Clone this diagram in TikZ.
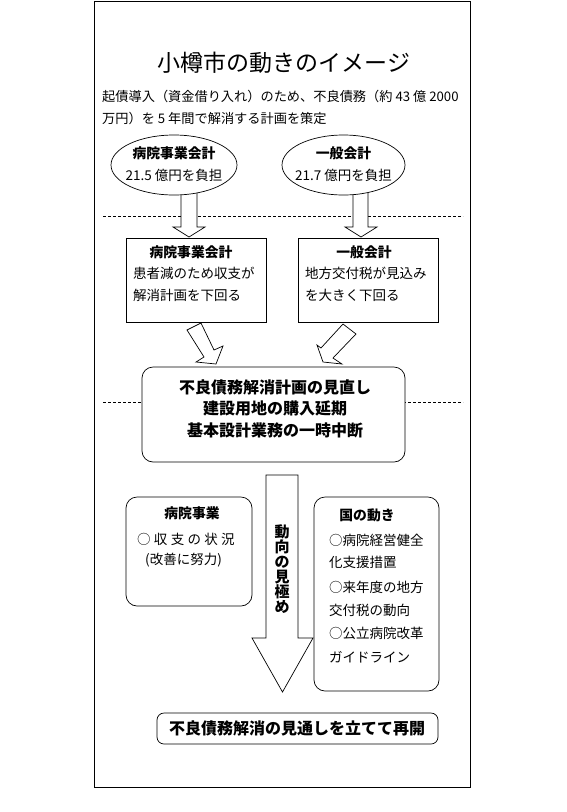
\documentclass[tikz,border=0pt]{standalone}
\usepackage{fontspec}
\setmainfont{Noto Sans CJK JP}
\usetikzlibrary{shapes.geometric}
\tikzset{
  frame/.style={draw, line width=1pt},
  ell/.style={ellipse, draw, fill=white, line width=0.7pt, minimum width=126pt, minimum height=60pt, inner sep=0pt},
  sqbox/.style={draw, fill=white, line width=0.7pt, minimum width=140pt, minimum height=84pt, inner sep=0pt},
  rbox/.style={draw, fill=white, line width=0.7pt, rounded corners=11pt, inner sep=0pt},
  blockarrow/.style={draw, fill=white, line width=0.7pt, line join=miter},
  dline/.style={line width=0.6pt, dash pattern=on 3pt off 2pt},
  t13/.style={inner sep=0pt, font=\fontsize{13.5}{15}\selectfont},
  s13/.style={inner sep=0pt, font=\fontsize{13.2}{15}\selectfont},
  b13/.style={inner sep=0pt, font=\fontsize{13.8}{15}\selectfont\bfseries},
  b16/.style={inner sep=0pt, font=\fontsize{16}{18}\selectfont\bfseries},
}
\begin{document}
\begin{tikzpicture}[x=1pt,y=-1pt]
\useasboundingbox (0,0) rectangle (566,812);
% outer frame
\draw[frame] (94.5,1) rectangle (470.5,787);
% title
\node[inner sep=0pt, font=\fontsize{23}{25}\selectfont, anchor=base] (title) at (284,71) {小樽市の動きのイメージ};
\node[s13, anchor=base west] (sub1) at (102,101) {起債導入（資金借り入れ）のため、不良債務（約 43 億 2000};
\node[s13, anchor=base west] (sub2) at (102,123) {万円）を 5 年間で解消する計画を策定};
% dashed lines
\draw[dline] (103,216) -- (463,216);
\draw[dline] (103,402) -- (463,402);
% vertical block arrows
\draw[blockarrow] (181,190) -- (197,190) -- (197,227) -- (205,227) -- (189,237) -- (173,227) -- (181,227) -- cycle;
\draw[blockarrow] (353,190) -- (368,190) -- (368,227) -- (377,227) -- (361,237) -- (345,227) -- (353,227) -- cycle;
% ellipses
\node[ell] (e1) at (174,165) {};
\node[b13, anchor=base] (e1a) at (174,158) {病院事業会計};
\node[t13, anchor=base] (e1b) at (174,180) {21.5 億円を負担};
\node[ell, minimum width=123pt] (e2) at (343.5,165) {};
\node[b13, anchor=base] (e2a) at (343.5,158) {一般会計};
\node[t13, anchor=base] (e2b) at (343.5,180) {21.7 億円を負担};
% square boxes
\node[sqbox] (b1) at (196,280) {};
\node[b13, anchor=base] (b1a) at (191,257) {病院事業会計};
\node[t13, anchor=base west] (b1b) at (133,278) {患者減のため収支が};
\node[t13, anchor=base west] (b1c) at (133,300) {解消計画を下回る};
\node[sqbox] (b2) at (368,280) {};
\node[b13, anchor=base] (b2a) at (364,257) {一般会計};
\node[t13, anchor=base west] (b2b) at (305,278) {地方交付税が見込み};
\node[t13, anchor=base west] (b2c) at (305,300) {を大きく下回る};
% diagonal block arrows
\draw[blockarrow] (187,330) -- (201,323) -- (214,350) -- (223,346) -- (216,364) -- (196,362) -- (204,357) -- cycle;
\draw[blockarrow] (343,324) -- (356,334) -- (333,358) -- (342,364) -- (323,362) -- (317,345) -- (321,348) -- cycle;
% middle rounded box
\node[rbox, minimum width=263pt, minimum height=95pt] (m) at (273.5,414.5) {};
\node[b16, anchor=base] (m1) at (275,393) {不良債務解消計画の見直し};
\node[b16, anchor=base] (m2) at (275,414) {建設用地の購入延期};
\node[b16, anchor=base] (m3) at (275,436) {基本設計業務の一時中断};
% big down arrow
\draw[blockarrow] (266,475) -- (298,475) -- (298,638) -- (313,638) -- (282.5,692) -- (252,638) -- (266,638) -- cycle;
\node[inner sep=0pt, align=center, font=\fontsize{15}{15}\selectfont\bfseries] (v) at (282,569) {動\\向\\の\\見\\極\\め};
% left small box
\node[rbox, minimum width=126pt, minimum height=109pt] (l) at (189,551.5) {};
\node[b13, anchor=base] (l1) at (192,518) {病院事業};
\node[t13, anchor=base west] (l2) at (137,544) {○\hspace{3.3pt}収\hspace{3.3pt}支\hspace{3.3pt}の\hspace{3.3pt}状\hspace{3.3pt}況};
\node[t13, anchor=base west] (l3) at (145,564) {(改善に努力)};
% right box
\node[rbox, minimum width=125pt, minimum height=194pt] (r) at (376.5,594) {};
\node[b13, anchor=base] (r0) at (367,520) {国の動き};
\node[t13, anchor=base west] (r1) at (329,545) {○病院経営健全};
\node[t13, anchor=base west] (r2) at (329,567) {化支援措置};
\node[t13, anchor=base west] (r3) at (329,592) {○来年度の地方};
\node[t13, anchor=base west] (r4) at (329,615) {交付税の動向};
\node[t13, anchor=base west] (r5) at (329,638) {○公立病院改革};
\node[t13, anchor=base west] (r6) at (329,662) {ガイドライン};
% bottom box
\node[rbox, rounded corners=7pt, minimum width=281pt, minimum height=31pt] (f) at (297.5,728.5) {};
\node[b16, anchor=base] (f1) at (297,734) {不良債務解消の見通しを立てて再開};
\end{tikzpicture}
\end{document}
